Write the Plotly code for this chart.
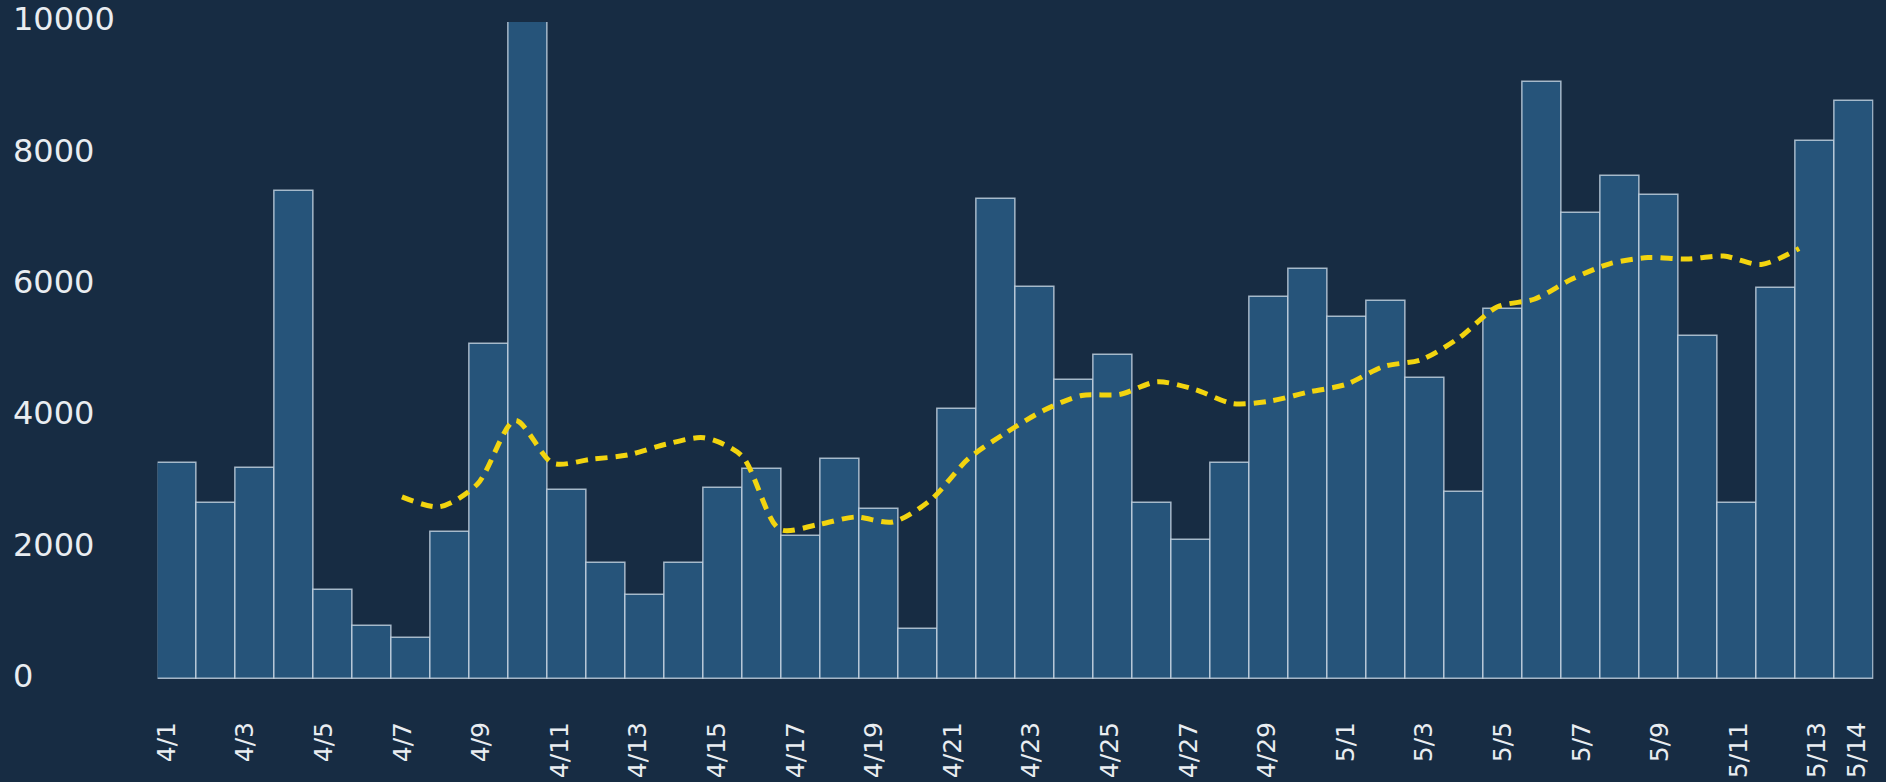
import plotly.graph_objects as go

# ---- data ----
dates = ["4/1", "4/2", "4/3", "4/4", "4/5", "4/6", "4/7", "4/8", "4/9", "4/10",
         "4/11", "4/12", "4/13", "4/14", "4/15", "4/16", "4/17", "4/18", "4/19", "4/20",
         "4/21", "4/22", "4/23", "4/24", "4/25", "4/26", "4/27", "4/28", "4/29", "4/30",
         "5/1", "5/2", "5/3", "5/4", "5/5", "5/6", "5/7", "5/8", "5/9", "5/10",
         "5/11", "5/12", "5/13", "5/14"]

daily_values = [3288, 2684, 3217, 7432, 1350, 812, 624, 2237, 5099, 10000,
                2872, 1766, 1284, 1766, 2907, 3191, 2176, 3348, 2583, 756,
                4104, 7311, 5971, 4556, 4931, 2679, 2110, 3288, 5819, 6235,
                5505, 5753, 4586, 2841, 5627, 9081, 7093, 7661, 7372, 5220,
                2684, 5946, 8193, 8797]

# 7-day average line, from 4/7 to 5/14
avg_dates = dates[6:]
avg_values = [2772, 2622, 2967, 3936, 3285, 3344, 3412, 3575, 3671, 3398,
              2280, 2348, 2465, 2390, 2724, 3353, 3750, 4090, 4316, 4330,
              4523, 4407, 4193, 4231, 4367, 4484, 4757, 4861, 5195, 5661,
              5784, 6092, 6323, 6414, 6391, 6437, 6310, 6553]

tick_labels = [d for i, d in enumerate(dates) if i % 2 == 0] + [dates[-1]]
tick_index = [i for i in range(len(dates)) if i % 2 == 0] + [len(dates) - 1]
y_ticks = [0, 2000, 4000, 6000, 8000, 10000]
y_tick_text = [str(v) for v in y_ticks]

BG = "#172c43"
BAR = "#26547a"
FONT = "DejaVu Sans"
TXT = "#e9edf1"

fig = go.Figure()

fig.add_trace(go.Bar(
    x=dates, y=daily_values,
    marker=dict(color=BAR, line=dict(color="rgba(200,214,228,0.8)", width=1.5)),
    xaxis="x", yaxis="y", hoverinfo="skip", showlegend=False,
))

fig.add_trace(go.Scatter(
    x=avg_dates, y=avg_values, mode="lines",
    line=dict(color="#f2d40f", width=5, dash="12px,8px", shape="spline", smoothing=0.8),
    xaxis="x2", yaxis="y", hoverinfo="skip", showlegend=False,
))

# empty trace (no values) so the date-label axis gets drawn
fig.add_trace(go.Scatter(
    x=tick_index, y=[None] * len(tick_index), mode="lines",
    xaxis="x3", yaxis="y", hoverinfo="skip", showlegend=False,
))

dom = [157.6 / 1886, 1873.5 / 1886]

fig.update_layout(
    width=1886, height=782,
    margin=dict(l=0, r=0, t=22, b=103, autoexpand=False),
    paper_bgcolor=BG, plot_bgcolor=BG,
    bargap=0,
    font=dict(family=FONT, color=TXT),
    xaxis=dict(domain=dom, type="category", range=[-0.5, 43.5], automargin=False,
               showticklabels=False, showgrid=False, zeroline=False, showline=False, ticks=""),
    xaxis2=dict(domain=dom, type="category", categoryarray=dates, categoryorder="array",
                range=[-0.471, 44.97], overlaying="x", anchor="y", automargin=False,
                showticklabels=False, showgrid=False, zeroline=False, showline=False, ticks=""),
    xaxis3=dict(domain=dom, type="linear", range=[-0.2316, 43.43], overlaying="x", anchor="y",
                side="bottom", tickmode="array", tickvals=tick_index, ticktext=tick_labels,
                tickangle=-90, tickfont=dict(size=25, color=TXT, family=FONT),
                ticks="", ticklabelstandoff=37, ticklabeloverflow="allow", automargin=False,
                showgrid=False, zeroline=False, showline=False),
    yaxis=dict(range=[0, 10000], tickmode="array", tickvals=y_ticks, ticktext=y_tick_text,
               side="right", anchor="free", position=12 / 1886, automargin=False,
               tickfont=dict(size=32, color=TXT, family=FONT),
               ticks="", ticklabelstandoff=0, ticklabelshift=-3, ticklabeloverflow="allow",
               showgrid=False, zeroline=False, showline=False),
)

fig.write_html(
    "out.html",
    config={"displayModeBar": False},
    post_script="document.body.style.margin='0';document.body.style.background='#172c43';",
)
